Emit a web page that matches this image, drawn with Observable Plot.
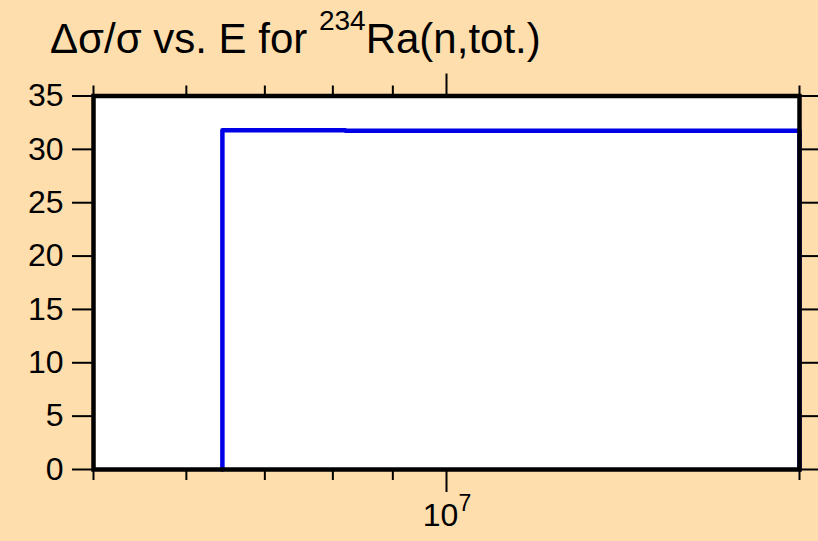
<!DOCTYPE html>
<html><head><meta charset="utf-8">
<script src="https://cdn.jsdelivr.net/npm/d3@7"></script>
<script src="https://cdn.jsdelivr.net/npm/@observablehq/plot@0.6"></script>
<style>
html,body{margin:0;padding:0;background:#FFDEAD;overflow:hidden;}
#chart{width:818px;height:541px;}
</style></head><body><div id="chart"></div>
<script>
// Data
const energies = [6.44e6, 6.44e6, 8.2e6, 2.0e7, 2.0e7];   // E (eV), step edges
const relUncert = [0, 31.8, 31.74, 31.74, 0];             // Δσ/σ (%)
const yTicks = [0, 5, 10, 15, 20, 25, 30, 35];
const xMinorTicks = [5e6, 6e6, 7e6, 8e6, 9e6, 2e7];
const xMajorTicks = [1e7];
const xMajorBase = ["10"];
const xMajorExp = ["7"];
const titleMain = "Δσ/σ vs. E for ";
const titleSup = "234";
const titleEnd = "Ra(n,tot.)";

const rows = energies.map((e, i) => ({e, v: relUncert[i]}));
const majors = xMajorTicks.map((t, i) => ({t, base: xMajorBase[i], exp: xMajorExp[i]}));
const font = "'Liberation Sans', Arial, Helvetica, sans-serif";

const plot = Plot.plot({
  width: 818, height: 541,
  marginLeft: 93, marginRight: 19, marginTop: 95.5, marginBottom: 72,
  style: {background: "#FFDEAD", fontFamily: font, color: "black", overflow: "visible"},
  x: {type: "log", domain: [5e6, 2e7], label: null},
  y: {domain: [0, 35], label: null},
  marks: [
    Plot.frame({fill: "white", stroke: "none"}),
    Plot.line(rows, {x: "e", y: "v", curve: "step-after", stroke: "#0000e6", strokeWidth: 4.5}),
    Plot.frame({stroke: "black", strokeWidth: 4.5}),
    Plot.axisY(yTicks, {anchor: "left", tickSize: 21, tickPadding: 9, strokeWidth: 2, fontSize: 32, label: null}),
    Plot.axisY(yTicks, {anchor: "right", tickSize: 21, tickFormat: () => "", strokeWidth: 2, label: null}),
    Plot.axisX(xMinorTicks, {anchor: "bottom", tickSize: 11, tickFormat: () => "", strokeWidth: 2, label: null}),
    Plot.axisX(xMinorTicks, {anchor: "top", tickSize: 11, tickFormat: () => "", strokeWidth: 2, label: null}),
    Plot.axisX(xMajorTicks, {anchor: "bottom", tickSize: 23, tickFormat: () => "", strokeWidth: 2, label: null}),
    Plot.axisX(xMajorTicks, {anchor: "top", tickSize: 23, tickFormat: () => "", strokeWidth: 2, label: null}),
    Plot.text(majors, {x: "t", text: "base", frameAnchor: "bottom", dx: -6, dy: 56, fontSize: 32, fill: "black"}),
    Plot.text(majors, {x: "t", text: "exp", frameAnchor: "bottom", dx: 18.5, dy: 41.5, fontSize: 23, fill: "black"})
  ]
});

const svg = d3.select(plot);
const title = svg.append("text")
  .attr("x", 50).attr("y", 53)
  .attr("text-anchor", "start")
  .attr("font-family", font).attr("font-size", 42).attr("fill", "black");
title.append("tspan").text(titleMain);
title.append("tspan").attr("font-size", 28).attr("dy", -23).text(titleSup);
title.append("tspan").attr("font-size", 42).attr("dy", 23).text(titleEnd);

document.getElementById("chart").appendChild(plot);
</script>
</body></html>
